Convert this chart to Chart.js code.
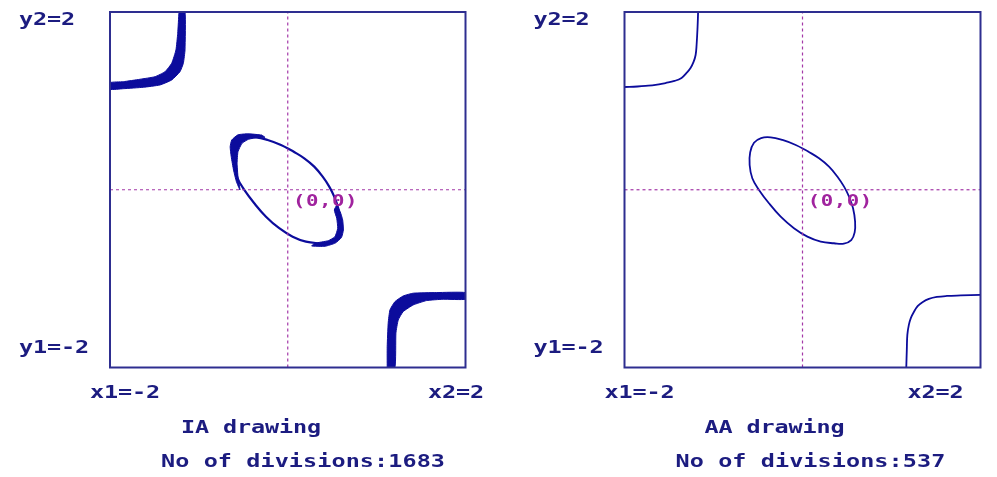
<!DOCTYPE html>
<html>
<head>
<meta charset="utf-8">
<script src="https://cdn.jsdelivr.net/npm/chart.js@4.4.0/dist/chart.umd.min.js"></script>
<style>
html,body{margin:0;padding:0;background:#fff;}
#wrap{position:relative;width:997px;height:477px;background:#fff;}
#wrap canvas{position:absolute;left:0;top:0;}
</style>
</head>
<body>
<div id="wrap">
  <canvas id="ia" width="997" height="477"></canvas>
  <canvas id="aa" width="997" height="477"></canvas>
</div>
<script>
// --- data (x, y in plot units, box is -2..2) ---
const panelTitles = ['IA drawing', 'AA drawing'];
const divisionCounts = [1683, 537];
const xLabels = ['x1=-2', 'x2=2'];
const yLabels = ['y1=-2', 'y2=2'];
const originLabel = '(0,0)';

const crossV = [[0,-2],[0,2]];
const crossH = [[-2,0],[2,0]];

// closed ellipse through the origin region
const ellipse = [
  [0.055,0.436],[0.186,0.354],[0.298,0.260],[0.393,0.147],[0.467,0.035],[0.523,-0.078],
  [0.568,-0.208],[0.591,-0.359],[0.586,-0.480],[0.548,-0.566],[0.465,-0.606],[0.354,-0.602],
  [0.205,-0.584],[0.055,-0.528],[-0.096,-0.433],[-0.245,-0.303],[-0.377,-0.152],[-0.489,-0.002],
  [-0.564,0.129],[-0.594,0.279],[-0.588,0.420],[-0.545,0.528],[-0.465,0.582],[-0.358,0.590],
  [-0.226,0.560],[-0.076,0.504],[0.055,0.436]
];
// AA corner curves
const cornerTL = [
  [-1.173,2.0],[-1.179,1.831],[-1.190,1.629],[-1.201,1.516],[-1.224,1.438],[-1.258,1.370],
  [-1.303,1.314],[-1.359,1.258],[-1.438,1.224],[-1.539,1.201],[-1.651,1.179],[-1.764,1.168],
  [-1.854,1.162],[-2.0,1.156]
];
const cornerBR = [
  [1.166,-2.0],[1.172,-1.802],[1.178,-1.633],[1.195,-1.521],[1.218,-1.442],[1.251,-1.375],
  [1.296,-1.307],[1.352,-1.262],[1.420,-1.228],[1.510,-1.206],[1.622,-1.195],[1.780,-1.189],
  [2.0,-1.183]
];
// IA thick bands (outline of each filled region)
const bandTL = [
  [-1.224,2.0],[-1.238,1.760],[-1.258,1.573],[-1.306,1.423],[-1.381,1.328],[-1.494,1.272],
  [-1.663,1.243],[-1.850,1.216],[-2.0,1.205],
  [-2.0,1.130],[-1.850,1.137],[-1.625,1.153],[-1.438,1.179],[-1.306,1.235],[-1.213,1.328],
  [-1.175,1.423],[-1.156,1.573],[-1.156,2.0],[-1.224,2.0]
];
const bandBR = [
  [1.119,-2.0],[1.119,-1.765],[1.130,-1.502],[1.150,-1.352],[1.206,-1.259],[1.299,-1.195],
  [1.412,-1.164],[1.675,-1.157],[2.0,-1.157],
  [2.0,-1.232],[1.749,-1.232],[1.562,-1.247],[1.412,-1.296],[1.299,-1.371],[1.243,-1.465],
  [1.217,-1.614],[1.206,-2.0],[1.119,-2.0]
];
const bandEllUL = [
  [-0.293,0.616],[-0.444,0.630],[-0.560,0.618],[-0.630,0.560],[-0.648,0.484],[-0.636,0.372],
  [-0.610,0.222],[-0.578,0.091],[-0.537,-0.003],
  [-0.560,0.147],[-0.570,0.298],[-0.560,0.428],[-0.515,0.522],[-0.444,0.567],[-0.331,0.590],
  [-0.256,0.590],[-0.293,0.616]
];
const bandEllLR = [
  [0.551,-0.172],[0.590,-0.247],[0.618,-0.340],[0.626,-0.453],[0.604,-0.538],[0.535,-0.600],
  [0.419,-0.636],[0.269,-0.633],
  [0.307,-0.602],[0.456,-0.573],[0.531,-0.528],[0.562,-0.434],[0.551,-0.321],[0.524,-0.228],
  [0.551,-0.172]
];

const INK = '#0c0c9c';
const TEXT = '#1c1c80';
const GUIDE = '#a438a8';

const pts = arr => arr.map(([x, y]) => ({x, y}));

function curve(arr, width){
  return {data: pts(arr), showLine: true, borderColor: INK, borderWidth: width,
          pointRadius: 0, tension: 0.4, fill: false};
}
function band(arr){
  return {data: pts(arr), showLine: true, borderColor: INK, borderWidth: 1,
          backgroundColor: INK, pointRadius: 0, tension: 0.15, fill: 'shape'};
}
function guide(arr){
  return {data: pts(arr), showLine: true, borderColor: GUIDE, borderWidth: 1.2,
          borderDash: [3, 3], pointRadius: 0, tension: 0, fill: false};
}

// draws wide monospaced text with a fixed character pitch
function spaced(ctx, text, x, y, pitch, color, font){
  ctx.save();
  ctx.fillStyle = color;
  ctx.font = font;
  ctx.textAlign = 'center';
  ctx.textBaseline = 'middle';
  for(let i = 0; i < text.length; i++){
    ctx.save();
    ctx.translate(x + i*pitch + pitch/2, y);
    ctx.scale(1.38, 1);
    ctx.fillText(text[i], 0, 0);
    ctx.restore();
  }
  ctx.restore();
}

const frame = {
  id: 'frame',
  afterDatasetsDraw(chart, args, o){
    const {ctx, chartArea: a} = chart;
    ctx.save();
    ctx.strokeStyle = '#2e2e90';
    ctx.lineWidth = 2;
    ctx.strokeRect(a.left, a.top, a.right - a.left, a.bottom - a.top);
    ctx.restore();
  },
  afterDraw(chart, args, o){
    const {ctx, chartArea: a, scales} = chart;
    const f = 'bold 17px "DejaVu Sans Mono"';
    spaced(ctx, yLabels[1], a.left - 91, 20.5, 14, TEXT, f);
    spaced(ctx, yLabels[0], a.left - 91, 349, 14, TEXT, f);
    spaced(ctx, xLabels[0], a.left - 20, 394, 14, TEXT, f);
    spaced(ctx, xLabels[1], a.left + o.x2Off, 394, 14, TEXT, f);
    spaced(ctx, o.title, a.left + o.titleOff, 429, 14, TEXT, f);
    spaced(ctx, 'No of divisions:' + o.count, a.left + 51, 463, 14.2, TEXT, f);
    spaced(ctx, originLabel, scales.x.getPixelForValue(0) + 5, scales.y.getPixelForValue(0) + 12,
           13, '#a0239e', 'bold 15px "DejaVu Sans Mono"');
  }
};

function makeChart(id, datasets, pad, opts){
  return new Chart(document.getElementById(id), {
    type: 'scatter',
    data: {datasets},
    options: {
      responsive: false,
      animation: false,
      layout: {padding: pad},
      scales: {
        x: {type: 'linear', min: -2, max: 2, display: false},
        y: {type: 'linear', min: -2, max: 2, display: false}
      },
      plugins: {legend: {display: false}, tooltip: {enabled: false}, frame: opts}
    },
    plugins: [frame]
  });
}

makeChart('ia', [
  guide(crossV), guide(crossH),
  band(bandTL), band(bandBR), band(bandEllUL), band(bandEllLR),
  curve(ellipse, 2.2)
], {left: 110, top: 12, right: 997 - 465.5, bottom: 477 - 367.5},
   {title: panelTitles[0], count: divisionCounts[0], x2Off: 318, titleOff: 71});

makeChart('aa', [
  guide(crossV), guide(crossH),
  curve(ellipse, 1.8), curve(cornerTL, 1.8), curve(cornerBR, 1.8)
], {left: 624.5, top: 12, right: 997 - 980.5, bottom: 477 - 367.5},
   {title: panelTitles[1], count: divisionCounts[1], x2Off: 283, titleOff: 80});
</script>
</body>
</html>
